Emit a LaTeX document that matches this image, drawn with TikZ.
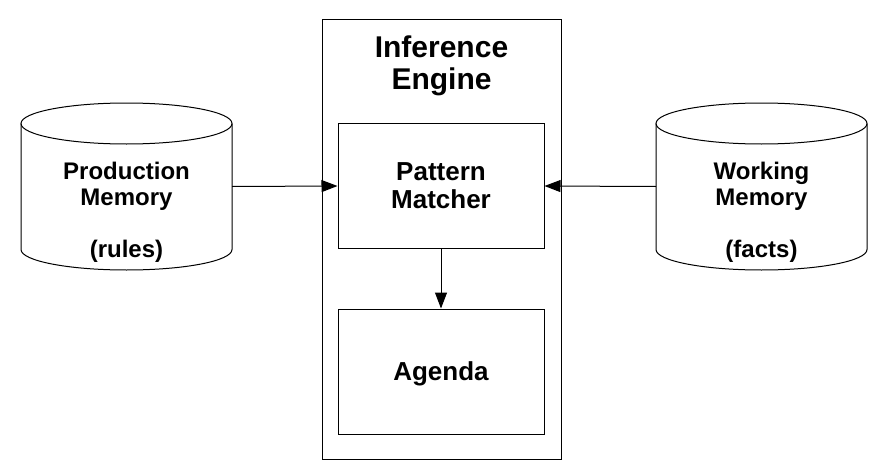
\documentclass[tikz,border=0pt]{standalone}
\usepackage{fontspec}
\setmainfont{Liberation Sans}
\usetikzlibrary{arrows.meta}

\tikzset{
  unit/.style={draw, line width=1pt, minimum width=206pt, minimum height=125pt,
    align=center, text depth=0pt, font=\fontsize{26}{28}\selectfont\bfseries},
  store/.style={minimum width=211pt, minimum height=126pt, inner sep=0pt, outer sep=0pt},
  storetext/.style={align=center, font=\fontsize{24}{26}\selectfont\bfseries},
  feed/.style={line width=1pt, -{Triangle[length=16pt,width=12pt]}}
}

\begin{document}
\begin{tikzpicture}[x=1pt,y=-1pt]
\useasboundingbox (0,0) rectangle (887,471);
\node[draw, line width=1pt, minimum width=239pt, minimum height=440pt] (engine) at (441.5,239) {};
\node[align=center, font=\fontsize{30}{32}\selectfont\bfseries] (title) at (441.5,66) {Inference\\Engine};
\node[unit] (matcher) at (441,186) {Pattern\\Matcher};
\node[unit] (agenda) at (441,371.5) {Agenda};
% memories
\node[store] (prodmem) at (126.5,186.5) {};
\node[store] (workmem) at (761.5,186.5) {};
\foreach \m in {prodmem,workmem} {
  \draw[line width=1pt] (\m.north west) -- (\m.south west)
    arc[start angle=180, end angle=0, x radius=105.5, y radius=20.5] -- (\m.north east);
  \draw[line width=1pt] (\m.north) ellipse [x radius=105.5, y radius=20.5];
}
\node[storetext] (prodlabel) at (126.5,212) {Production\\Memory\\[26pt](rules)};
\node[storetext] (worklabel) at (761.5,212) {Working\\Memory\\[26pt](facts)};
\draw[feed] (prodmem.east) -- (matcher.west);
\draw[feed] (workmem.west) -- (matcher.east);
\draw[feed] (matcher.south) -- (agenda.north);
\end{tikzpicture}
\end{document}
